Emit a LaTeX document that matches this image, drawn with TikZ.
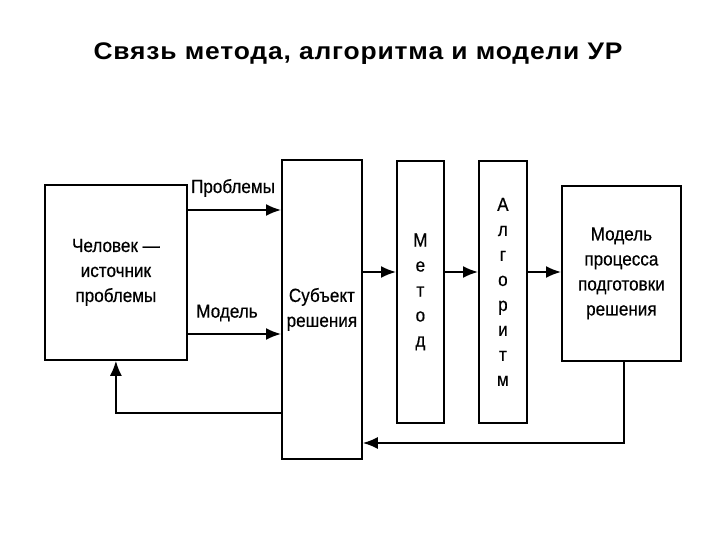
\documentclass[tikz,border=0pt]{standalone}
\usepackage{fontspec}
\setmainfont{Liberation Sans}
\newfontfamily\diagfont[FakeStretch=0.9,FakeBold=0.5]{Liberation Sans}
\newfontfamily\titlefont[FakeStretch=1.1,LetterSpace=3.5]{Liberation Sans Bold}
\usetikzlibrary{arrows.meta}
\begin{document}
\begin{tikzpicture}[x=1pt,y=-1pt,
  box/.style={draw, line width=1.8pt, anchor=north west, inner sep=0pt, align=center,
    font=\diagfont\fontsize{19}{25}\selectfont},
  arr/.style={line width=1.8pt, -{Latex[length=15pt,width=12pt]}},
  lbl/.style={font=\diagfont\fontsize{19}{25}\selectfont, inner sep=0pt}]
\useasboundingbox[fill=white] (0,0) rectangle (720,540);
\node[font=\titlefont\fontsize{24}{28}\selectfont] (title) at (358,54) {Связь метода, алгоритма и модели УР};
\node[box, minimum width=142pt, minimum height=175pt] (person) at (44,184) {Человек —\\источник\\проблемы};
\node[box, minimum width=80pt, minimum height=299pt] (subj) at (281,159) {Субъект\\решения};
\node[box, minimum width=47pt, minimum height=262pt] (metod) at (396,160) {М\\е\\т\\о\\д};
\node[box, minimum width=48pt, minimum height=262pt] (algo) at (478,160) {А\\л\\г\\о\\р\\и\\т\\м};
\node[box, minimum width=119pt, minimum height=175pt] (model) at (561,185) {Модель\\процесса\\подготовки\\решения};
\draw[arr] (person.east |- 0,210) -- (subj.west |- 0,210);
\node[lbl] (lprob) at (233,188) {Проблемы};
\draw[arr] (person.east |- 0,334) -- (subj.west |- 0,334);
\node[lbl] (lmod) at (227,313) {Модель};
\draw[arr] (subj.west |- 0,413) -| (person.south);
\draw[arr] (subj.east |- 0,272) -- (metod.west |- 0,272);
\draw[arr] (metod.east |- 0,272) -- (algo.west |- 0,272);
\draw[arr] (algo.east |- 0,272) -- (model.west |- 0,272);
\draw[arr] ([xshift=2.5pt]model.south) |- (subj.east |- 0,443);
\end{tikzpicture}
\end{document}
